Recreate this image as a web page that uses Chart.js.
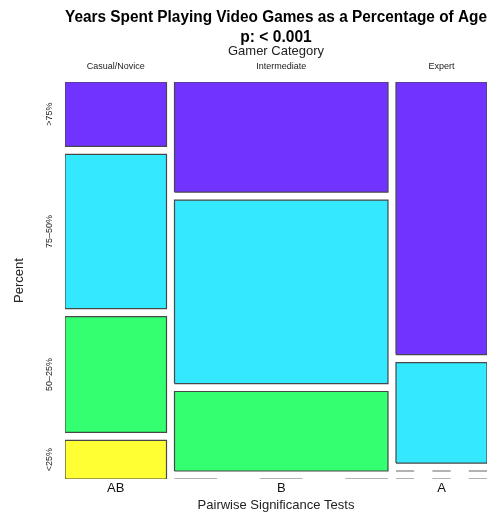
<!DOCTYPE html>
<html>
<head>
<meta charset="utf-8">
<script src="https://cdn.jsdelivr.net/npm/chart.js@4"></script>
<style>
html, body { margin: 0; padding: 0; background: #fff; }
canvas { display: block; }
</style>
</head>
<body>
<canvas id="mosaic" width="492" height="513"></canvas>
<script>
// counts per gamer category, one array per percentage band
const categories = ["Casual/Novice", "Intermediate", "Expert"];
const levels = [">75%", "75\u201350%", "50\u201325%", "<25%"];
const over75 = [5, 18, 19];
const from75to50 = [12, 30, 7];
const from50to25 = [9, 13, 0];
const under25 = [3, 0, 0];
const groupLetters = ["AB", "B", "A"];
const levelColors = ["#7133ff", "#33e8ff", "#33ff70", "#ffff33"];

const FONT = "'Liberation Sans', Arial, Helvetica, sans-serif";
const GAP_X = 0.0197;
const GAP_Y = 0.0214;

// rows listed top to bottom, same order as levels
const counts = [over75, from75to50, from50to25, under25];
const colTotals = categories.map((c, i) => counts.reduce((s, row) => s + row[i], 0));
const grand = colTotals.reduce((a, b) => a + b, 0);
const xMax = 1 + GAP_X * (categories.length - 1);
const yMax = 1 + GAP_Y * (levels.length - 1);

// column extents: widths proportional to column totals
const columns = [];
let cum = 0;
categories.forEach((c, i) =>
{
    const x0 = cum / grand + i * GAP_X;
    columns.push({ x0: x0, x1: x0 + colTotals[i] / grand });
    cum += colTotals[i];
});

// stack the tiles from the bottom band up, keeping a gap even for empty tiles
const datasets = [];
const firstColumnCells = [];
columns.forEach((col, i) =>
{
    let acc = 0;
    for (let k = levels.length - 1, j = 0; k >= 0; k--, j++)
    {
        const frac = counts[k][i] / colTotals[i];
        const y0 = acc + j * GAP_Y;
        const y1 = y0 + frac;
        acc += frac;
        if (i === 0) firstColumnCells.push({ label: levels[k], y0: y0, y1: y1 });
        if (counts[k][i] > 0)
        {
            datasets.push({
                data: [
                    { x: col.x0, y: y0 }, { x: col.x1, y: y0 },
                    { x: col.x1, y: y1 }, { x: col.x0, y: y1 },
                    { x: col.x0, y: y0 }
                ],
                backgroundColor: levelColors[k],
                borderColor: "#484848",
                borderWidth: 1.2,
                fill: "shape",
                pointRadius: 0,
                tension: 0,
                borderJoinStyle: "miter"
            });
        }
        else
        {
            // empty tile: dashed line across the column
            datasets.push({
                data: [{ x: col.x0, y: y0 }, { x: col.x1, y: y0 }],
                borderColor: "#666",
                borderWidth: 1.2,
                fill: false,
                pointRadius: 0,
                borderDash: function (ctx)
                {
                    const s = ctx.chart.scales.x;
                    const w = (s.getPixelForValue(col.x1) - s.getPixelForValue(col.x0)) / 5;
                    return [w, w];
                }
            });
        }
    }
});

const centers = columns.map(c => (c.x0 + c.x1) / 2);

// rotated band labels beside the first column
const levelLabels =
{
    id: "levelLabels",
    afterDraw(chart)
    {
        const ctx = chart.ctx;
        const y = chart.scales.y;
        ctx.save();
        ctx.font = "9px " + FONT;
        ctx.fillStyle = "#222";
        ctx.textAlign = "center";
        ctx.textBaseline = "middle";
        firstColumnCells.forEach(cell =>
        {
            const py = y.getPixelForValue((cell.y0 + cell.y1) / 2);
            ctx.save();
            ctx.translate(y.right - 15, py);
            ctx.rotate(-Math.PI / 2);
            ctx.fillText(cell.label, 0, 0);
            ctx.restore();
        });
        ctx.restore();
    }
};

new Chart(document.getElementById("mosaic"),
{
    type: "line",
    data: { datasets: datasets },
    plugins: [levelLabels],
    options:
    {
        responsive: false,
        animation: false,
        events: [],
        devicePixelRatio: 1,
        layout: { padding: { left: 0, right: 5, top: 0, bottom: 0 } },
        plugins:
        {
            legend: { display: false },
            tooltip: { enabled: false },
            title:
            {
                display: true,
                fullSize: false,
                text: ["Years Spent Playing Video Games as a Percentage of Age", "p: < 0.001"],
                color: "#000",
                font: { family: FONT, size: 15.6, weight: "bold", lineHeight: "20px" },
                padding: { top: 7.8, bottom: 0 }
            }
        },
        scales:
        {
            x:
            {
                type: "linear",
                position: "top",
                min: 0,
                max: xMax,
                grid: { display: false, drawTicks: false },
                border: { display: false },
                afterBuildTicks: s => { s.ticks = centers.map(v => ({ value: v })); },
                afterFit: s => { s.height = 34.2; },
                ticks:
                {
                    autoSkip: false,
                    maxRotation: 0,
                    padding: 10,
                    color: "#222",
                    font: { family: FONT, size: 9 },
                    callback: (v, i) => categories[i]
                },
                title:
                {
                    display: true,
                    text: "Gamer Category",
                    color: "#222",
                    font: { family: FONT, size: 13, lineHeight: 0.5 },
                    padding: { top: 0, bottom: 0 }
                }
            },
            x2:
            {
                type: "linear",
                position: "bottom",
                min: 0,
                max: xMax,
                grid: { display: false, drawTicks: false },
                border: { display: false },
                afterBuildTicks: s => { s.ticks = centers.map(v => ({ value: v })); },
                afterFit: s => { s.height = 34; },
                ticks:
                {
                    autoSkip: false,
                    maxRotation: 0,
                    padding: 2,
                    color: "#111",
                    font: { family: FONT, size: 13 },
                    callback: (v, i) => groupLetters[i]
                },
                title:
                {
                    display: true,
                    text: "Pairwise Significance Tests",
                    color: "#222",
                    font: { family: FONT, size: 13 },
                    padding: { top: 0, bottom: 0 }
                }
            },
            y:
            {
                type: "linear",
                min: 0,
                max: yMax,
                grid: { display: false, drawTicks: false },
                border: { display: false },
                ticks: { display: false },
                afterFit: s => { s.width = 65; },
                title:
                {
                    display: true,
                    text: "Percent",
                    color: "#222",
                    font: { family: FONT, size: 13 },
                    padding: { top: 11.5, bottom: 0 }
                }
            }
        }
    }
});
</script>
</body>
</html>
